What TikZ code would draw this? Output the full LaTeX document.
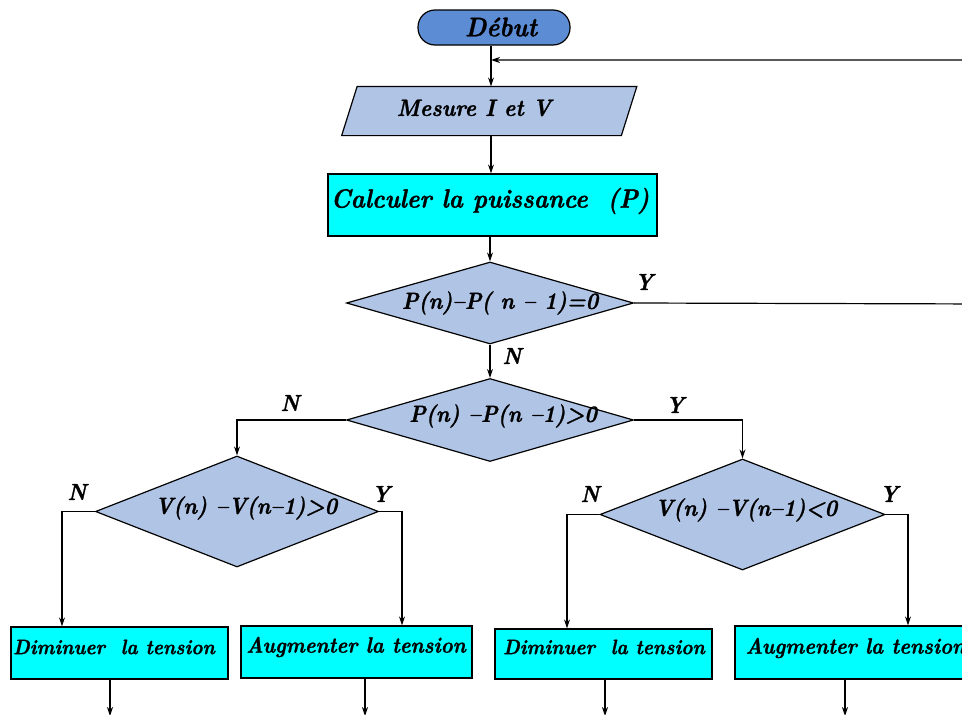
\documentclass[tikz,border=0pt]{standalone}
\usepackage{graphicx}
\usepackage{fontspec}
\newfontfamily\flowfont{lmroman10-bolditalic.otf}[Ligatures=TeX,FakeBold=1.2]
\usetikzlibrary{shapes.geometric,arrows.meta,calc}
\definecolor{startblue}{RGB}{92,140,212}
\definecolor{paleblue}{RGB}{176,197,230}
\definecolor{proccyan}{RGB}{0,255,255}
% text set slightly taller than the font's own proportions
\newcommand{\tall}[1]{\scalebox{1}[1.1]{#1}}

\begin{document}
\begin{tikzpicture}[x=1pt,y=-1pt,line width=1.2pt,
  >={Stealth[length=9pt,width=6pt]},
  txt/.style={inner sep=0pt,font=\flowfont\fontsize{#1}{#1}\selectfont},
  txt/.default=21.2,
  terminal/.style={draw,fill=startblue,rounded corners=17pt,minimum width=152pt,minimum height=35pt,inner sep=0pt},
  iobody/.style={rectangle,minimum width=278.5pt,minimum height=48pt,inner sep=0pt},
  proc/.style={draw,fill=proccyan,rectangle,inner sep=0pt},
  decision/.style={draw,fill=paleblue,diamond,inner sep=0pt}]

\useasboundingbox (0,0) rectangle (962,715);

% shapes
\node[terminal] (start) at (494,27.5) {};
\node[iobody] (mesure) at (489.25,111) {};
\draw[fill=paleblue,line join=miter]
  ([xshift=-7.75pt]mesure.south west) -- ([xshift=7.75pt]mesure.north west) --
  ([xshift=7.75pt]mesure.north east) -- ([xshift=-7.75pt]mesure.south east) -- cycle;
\node[proc,minimum width=329pt,minimum height=62pt] (calc) at (492.5,205) {};
\node[decision,minimum width=287pt,minimum height=82pt] (d1) at (490,303) {};
\node[decision,minimum width=287pt,minimum height=83pt] (d2) at (490,420) {};
\node[decision,minimum width=283pt,minimum height=111pt] (d3) at (237,511.5) {};
\node[decision,minimum width=285pt,minimum height=111pt] (d4) at (742.5,514.5) {};
\node[proc,minimum width=217pt,minimum height=52pt] (b1) at (119.5,653) {};
\node[proc,minimum width=231pt,minimum height=52pt] (b2) at (356.5,652) {};
\node[proc,minimum width=217pt,minimum height=50pt] (b3) at (603.5,654) {};
\node[proc,minimum width=231pt,minimum height=53pt] (b4) at (850.5,652.5) {};

% texts
\node[txt=24.5] (tstart) at (501,27) {\tall{Début}};
\node[txt=21.5] (tmesure) at (474,108) {\tall{Mesure I et V}};
\node[txt=24] (tcalc) at (490,201) {\tall{Calculer la puissance\ \ (P)}};
\node[txt] (td1) at (500,303) {\tall{P(n)--P( n -- 1)=0}};
\node[txt] (td2) at (503,416) {\tall{P(n) --P(n --1)>0}};
\node[txt] (td3) at (246,508) {\tall{V(n) --V(n--1)>0}};
\node[txt] (td4) at (746,510) {\tall{V(n) --V(n--1)<0}};
\node[txt=19] (tb1) at (114,647) {\tall{Diminuer\ \ la tension}};
\node[txt=20.2] (tb2) at (356,647) {\tall{Augmenter la tension}};
\node[txt=19] (tb3) at (604,647) {\tall{Diminuer\ \ la tension}};
\node[txt=20.2,anchor=west] (tb4) at (745,648) {\tall{Augmenter la tension}};

% branch labels
\node[txt=21] (y1) at (644,282) {\tall{Y}};
\node[txt=21] (n1) at (512,356) {\tall{N}};
\node[txt=21] (n2) at (290,403) {\tall{N}};
\node[txt=21] (y2) at (675,405) {\tall{Y}};
\node[txt=21] (n3) at (77,492) {\tall{N}};
\node[txt=21] (y3) at (381,494) {\tall{Y}};
\node[txt=21] (n4) at (590,494) {\tall{N}};
\node[txt=21] (y4) at (889,494) {\tall{Y}};

% loop-back points and free ends
\coordinate (jn) at (491,60);
\coordinate (loopR) at (990,304);
\coordinate (loopT) at (990,60);
\coordinate (o1) at (110,716);
\coordinate (o2) at (365,716);
\coordinate (o3) at (605,716);
\coordinate (o4) at (845,716);

% main flow
\draw[->] (start.south -| jn) -- (mesure.north -| jn);
\draw[->] (mesure.south -| jn) -- (calc.north -| jn);
\draw[->] (calc.south -| d1.north) -- (d1.north);
\draw[->] (d1.south) -- (d2.north);
\draw[->] (d1.east) -- (loopR) -- (loopT) -- (jn);

% branches
\draw[->] (d2.west) -| (d3.north);
\draw[->] (d2.east) -| (d4.north);
\draw[->] (d3.west) -| ([xshift=-57.5pt]b1.north);
\draw[->] (d3.east) -| ([xshift=45.5pt]b2.north);
\draw[->] (d4.west) -| ([xshift=-36.5pt]b3.north);
\draw[->] (d4.east) -| ([xshift=57.5pt]b4.north);

% outgoing arrows
\draw[->] (b1.south -| o1) -- (o1);
\draw[->] (b2.south -| o2) -- (o2);
\draw[->] (b3.south -| o3) -- (o3);
\draw[->] (b4.south -| o4) -- (o4);
\end{tikzpicture}
\end{document}
